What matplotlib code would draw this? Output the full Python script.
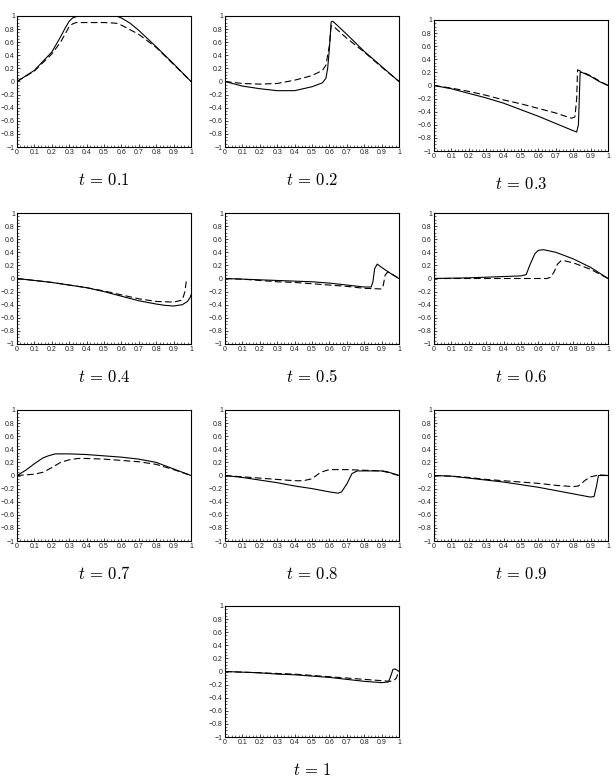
import numpy as np
import matplotlib
matplotlib.use("Agg")
import matplotlib.pyplot as plt
from matplotlib.ticker import MultipleLocator

plt.rcParams['mathtext.fontset'] = 'cm'
plt.rcParams['font.family'] = ['Liberation Sans', 'DejaVu Sans']

# values, one (x, y) list per curve
times = ['0.1', '0.2', '0.3', '0.4', '0.5', '0.6', '0.7', '0.8', '0.9', '1']

solid_x = [
    [0, 0.1, 0.2, 0.25, 0.28, 0.3, 0.32, 0.34, 0.36, 0.4, 0.5, 0.57, 0.6, 0.65, 0.7, 0.8, 0.9, 1.0],
    [0, 0.1, 0.2, 0.3, 0.4, 0.5, 0.56, 0.58, 0.59, 0.6, 0.61, 0.62, 0.7, 0.8, 0.9, 1.0],
    [0, 0.1, 0.2, 0.3, 0.4, 0.5, 0.6, 0.7, 0.8, 0.82, 0.83, 0.835, 0.84, 0.85, 0.9, 0.95, 1.0],
    [0, 0.1, 0.2, 0.3, 0.4, 0.5, 0.6, 0.7, 0.8, 0.85, 0.9, 0.95, 0.98, 0.995, 1.0],
    [0, 0.1, 0.2, 0.3, 0.4, 0.5, 0.6, 0.7, 0.8, 0.84, 0.85, 0.86, 0.875, 0.9, 0.95, 1.0],
    [0, 0.1, 0.2, 0.3, 0.4, 0.5, 0.53, 0.55, 0.58, 0.6, 0.63, 0.7, 0.8, 0.9, 1.0],
    [0, 0.05, 0.1, 0.15, 0.18, 0.22, 0.25, 0.3, 0.4, 0.5, 0.6, 0.7, 0.8, 0.9, 0.95, 1.0],
    [0, 0.1, 0.2, 0.3, 0.4, 0.5, 0.6, 0.65, 0.67, 0.7, 0.73, 0.76, 0.8, 0.9, 0.93, 1.0],
    [0, 0.1, 0.2, 0.3, 0.4, 0.5, 0.6, 0.7, 0.8, 0.9, 0.92, 0.935, 0.945, 0.96, 1.0],
    [0, 0.1, 0.2, 0.3, 0.4, 0.5, 0.6, 0.7, 0.8, 0.9, 0.94, 0.955, 0.965, 0.975, 0.99, 1.0],
]
solid_y = [
    [0, 0.17, 0.45, 0.68, 0.83, 0.92, 0.97, 0.99, 1.0, 1.0, 1.0, 1.0, 0.97, 0.89, 0.78, 0.53, 0.27, 0.0],
    [0, -0.07, -0.11, -0.14, -0.14, -0.08, -0.02, 0.05, 0.2, 0.5, 0.91, 0.92, 0.72, 0.46, 0.23, 0.0],
    [0, -0.05, -0.12, -0.19, -0.27, -0.37, -0.47, -0.58, -0.69, -0.71, -0.6, -0.2, 0.2, 0.2, 0.14, 0.06, 0.0],
    [0, -0.03, -0.06, -0.1, -0.14, -0.2, -0.27, -0.34, -0.39, -0.41, -0.42, -0.4, -0.35, -0.29, -0.25],
    [0, -0.01, -0.02, -0.03, -0.04, -0.05, -0.07, -0.1, -0.13, -0.13, -0.05, 0.15, 0.22, 0.17, 0.08, 0.0],
    [0, 0.005, 0.01, 0.02, 0.03, 0.04, 0.06, 0.2, 0.38, 0.43, 0.44, 0.4, 0.3, 0.17, 0.0],
    [0, 0.08, 0.18, 0.27, 0.30, 0.33, 0.33, 0.33, 0.32, 0.3, 0.28, 0.25, 0.2, 0.1, 0.05, 0.0],
    [0, -0.03, -0.07, -0.11, -0.16, -0.2, -0.25, -0.27, -0.25, -0.13, 0.03, 0.07, 0.07, 0.07, 0.06, 0.0],
    [0, -0.01, -0.04, -0.07, -0.1, -0.14, -0.18, -0.23, -0.28, -0.33, -0.32, -0.15, 0.0, 0.0, 0.0],
    [0, -0.01, -0.02, -0.04, -0.05, -0.07, -0.09, -0.12, -0.15, -0.17, -0.16, -0.05, 0.03, 0.04, 0.02, 0.0],
]

dash_x = [
    [0, 0.1, 0.2, 0.25, 0.28, 0.3, 0.32, 0.34, 0.4, 0.5, 0.57, 0.6, 0.7, 0.8, 0.9, 1.0],
    [0, 0.1, 0.2, 0.3, 0.4, 0.5, 0.56, 0.58, 0.6, 0.61, 0.62, 0.7, 0.8, 0.9, 1.0],
    [0, 0.1, 0.2, 0.3, 0.4, 0.5, 0.6, 0.7, 0.79, 0.81, 0.82, 0.825, 0.84, 0.9, 0.95, 1.0],
    [0, 0.1, 0.2, 0.3, 0.4, 0.5, 0.6, 0.7, 0.8, 0.9, 0.95, 0.965, 0.975],
    [0, 0.1, 0.2, 0.3, 0.4, 0.5, 0.6, 0.7, 0.8, 0.9, 0.91, 0.92, 0.935, 0.95, 1.0],
    [0, 0.2, 0.4, 0.5, 0.65, 0.67, 0.69, 0.71, 0.73, 0.75, 0.8, 0.9, 1.0],
    [0, 0.1, 0.15, 0.2, 0.25, 0.3, 0.35, 0.4, 0.5, 0.6, 0.7, 0.8, 0.9, 1.0],
    [0, 0.1, 0.2, 0.3, 0.4, 0.45, 0.5, 0.55, 0.6, 0.7, 0.8, 0.9, 0.93, 1.0],
    [0, 0.1, 0.2, 0.3, 0.4, 0.5, 0.6, 0.7, 0.8, 0.83, 0.87, 0.9, 0.95, 1.0],
    [0, 0.1, 0.2, 0.3, 0.4, 0.5, 0.6, 0.7, 0.8, 0.9, 0.95, 0.97, 0.985, 0.995, 1.0],
]
dash_y = [
    [0, 0.16, 0.42, 0.6, 0.74, 0.84, 0.88, 0.9, 0.9, 0.9, 0.89, 0.86, 0.72, 0.52, 0.26, 0.0],
    [0, -0.03, -0.04, -0.03, 0.02, 0.09, 0.17, 0.25, 0.55, 0.85, 0.85, 0.66, 0.45, 0.22, 0.0],
    [0, -0.04, -0.09, -0.15, -0.22, -0.28, -0.35, -0.42, -0.5, -0.48, -0.2, 0.24, 0.22, 0.15, 0.07, 0.0],
    [0, -0.03, -0.06, -0.1, -0.14, -0.19, -0.25, -0.31, -0.35, -0.36, -0.33, -0.2, 0.0],
    [0, -0.01, -0.03, -0.05, -0.06, -0.08, -0.1, -0.12, -0.15, -0.16, -0.1, 0.05, 0.1, 0.08, 0.0],
    [0, 0.0, 0.0, 0.0, 0.0, 0.02, 0.1, 0.22, 0.27, 0.27, 0.24, 0.14, 0.0],
    [0, 0.02, 0.05, 0.12, 0.2, 0.24, 0.26, 0.26, 0.25, 0.23, 0.21, 0.17, 0.09, 0.0],
    [0, -0.02, -0.04, -0.06, -0.08, -0.08, -0.05, 0.05, 0.09, 0.09, 0.08, 0.07, 0.05, 0.0],
    [0, -0.01, -0.03, -0.06, -0.08, -0.1, -0.12, -0.15, -0.17, -0.16, -0.07, -0.02, 0.01, 0.0],
    [0, -0.01, -0.02, -0.03, -0.04, -0.06, -0.08, -0.1, -0.12, -0.14, -0.15, -0.14, -0.1, -0.02, 0.0],
]

W, H = 615, 782
fig = plt.figure(figsize=(W / 100, H / 100), dpi=100)

# panel boxes in pixels: (left, top)
col_left = [17, 225, 434]
row_top = [16, 213, 410, 606]
aw, ah = 174, 131


def fmt(v, pos):
    return ('%g' % round(v, 2)).replace('-', '\u2212')


for i, t in enumerate(times):
    if i < 9:
        r, c = divmod(i, 3)
    else:
        r, c = 3, 1
    top = row_top[r] + (4 if (r == 0 and c == 2) else 0)
    ax = fig.add_axes([col_left[c] / W, 1 - (top + ah) / H, aw / W, ah / H])
    ax.plot(solid_x[i], solid_y[i], color='black', lw=0.8)
    ax.plot(dash_x[i], dash_y[i], color='black', lw=0.8, dashes=(6, 3))
    ax.set_xlim(0, 1)
    ax.set_ylim(-1, 1)
    ax.xaxis.set_major_locator(MultipleLocator(0.1))
    ax.yaxis.set_major_locator(MultipleLocator(0.2))
    ax.xaxis.set_minor_locator(MultipleLocator(0.02))
    ax.yaxis.set_minor_locator(MultipleLocator(0.05))
    ax.xaxis.set_major_formatter(plt.FuncFormatter(fmt))
    ax.yaxis.set_major_formatter(plt.FuncFormatter(fmt))
    ax.tick_params(which='major', direction='in', length=2.5, width=0.5,
                   labelsize=5, pad=1.5, labelcolor='#222222')
    ax.tick_params(which='minor', direction='in', length=1.2, width=0.4)
    for s in ax.spines.values():
        s.set_linewidth(0.8)
    ax.text(0.5, -0.25, r'$t\, =\, %s$' % t, transform=ax.transAxes,
            ha='center', va='center', fontsize=12)

fig.savefig('out.png', dpi=100)
